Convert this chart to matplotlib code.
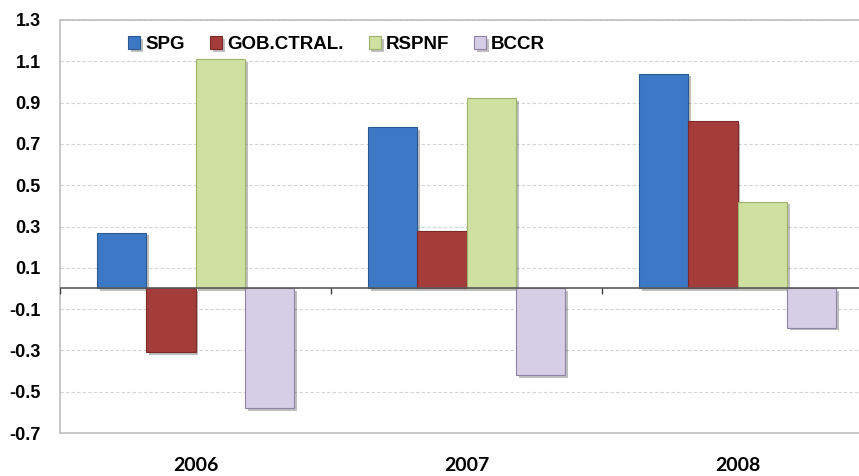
import matplotlib
matplotlib.use("Agg")
import matplotlib.pyplot as plt
import matplotlib.patheffects as pe
import numpy as np

years = ["2006", "2007", "2008"]
series = ["SPG", "GOB.CTRAL.", "RSPNF", "BCCR"]
spg = [0.27, 0.78, 1.04]
gob = [-0.31, 0.28, 0.81]
rspnf = [1.11, 0.92, 0.42]
bccr = [-0.58, -0.42, -0.19]

face_colors = ["#3D78C6", "#A43C39", "#CFE0A1", "#D6CDE6"]
edge_colors = ["#2A5890", "#7A2927", "#9CB36B", "#8F83A8"]

plt.rcParams["font.family"] = ["Liberation Sans", "DejaVu Sans"]

fig = plt.figure(figsize=(8.59, 4.76), dpi=100)
ax = fig.add_axes([60 / 859, 43 / 476, 813 / 859, 413 / 476])

x = np.arange(len(years))
width = 0.182
values = [spg, gob, rspnf, bccr]
shadow = [pe.withSimplePatchShadow(offset=(2, -2), shadow_rgbFace="black", alpha=0.25)]
for i, (name, vals) in enumerate(zip(series, values)):
    ax.bar(x + (i - 1.5) * width, vals, width, label=name,
           color=face_colors[i], edgecolor=edge_colors[i], linewidth=0.8,
           zorder=3, path_effects=shadow)

ax.set_xlim(-0.5, len(years) - 0.5)
ax.set_ylim(-0.7, 1.3)
yt = np.round(np.arange(-0.7, 1.31, 0.2), 1)
ax.set_yticks(yt)
ax.set_yticklabels([f"{v:.1f}" for v in yt], fontsize=13, fontweight="bold")
ax.tick_params(axis="y", length=0, pad=14)

ax.set_xticks(x)
ax.set_xticklabels(years, fontsize=14, fontweight="bold", family=["Lato", "DejaVu Sans"])
ax.tick_params(axis="x", length=0, pad=17)

ax.yaxis.grid(True, linestyle=(0, (3, 2)), color="#D4D4D4", linewidth=0.8, zorder=0)
ax.set_axisbelow(True)

# category axis through zero with boundary ticks
ax.axhline(0, color="#5A5A5A", linewidth=1.2, zorder=4)
ax.vlines(np.arange(len(years)) - 0.5, -0.025, 0, color="#404040", linewidth=1, zorder=4)

for s in ["top", "bottom", "left"]:
    ax.spines[s].set_color("#BFBFBF")
    ax.spines[s].set_linewidth(1.2)
ax.spines["right"].set_visible(False)

leg = ax.legend(loc="center left", bbox_to_anchor=(0.084, 0.94), ncol=4, frameon=False,
                prop={"size": 13.5, "weight": "bold"}, handlelength=0.65, handleheight=0.65,
                handletextpad=0.25, columnspacing=1.35, borderpad=0, borderaxespad=0)

fig.savefig("out.png", dpi=100)
